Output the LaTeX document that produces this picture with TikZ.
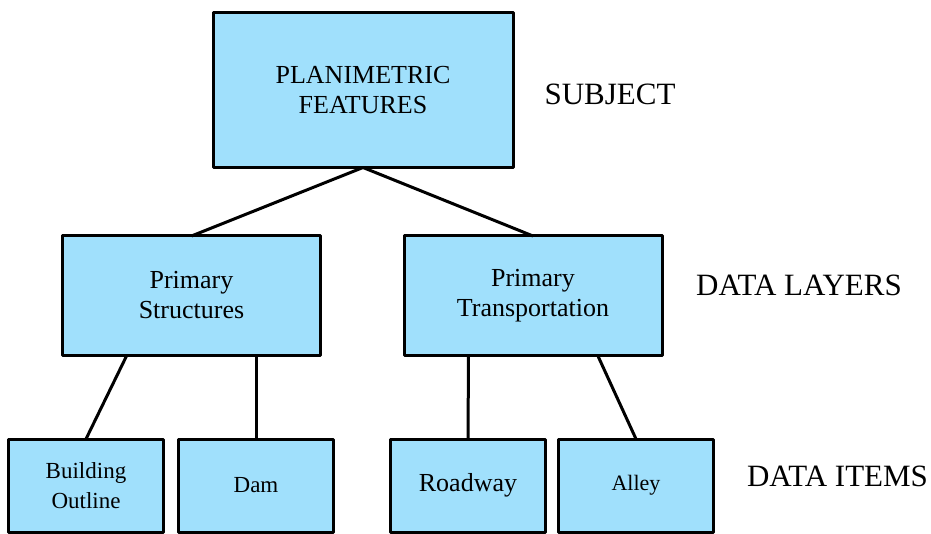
\documentclass[tikz,border=0pt]{standalone}
\usepackage{fontspec}
\setmainfont{Liberation Serif}
\newfontfamily\tnr{Liberation Serif}
\usetikzlibrary{calc}
\definecolor{boxblue}{RGB}{160,224,252}
\tikzset{
  box/.style={draw=black, line width=3pt, fill=boxblue, rectangle, inner sep=0pt, outer sep=0pt, align=center, line join=round},
  bigbox/.style={box, minimum width=300pt, minimum height=155pt, font=\tnr\fontsize{26}{30}\selectfont},
  midbox/.style={box, minimum width=258pt, minimum height=119pt, font=\tnr\fontsize{26}{30}\selectfont},
  smallbox/.style={box, minimum width=155pt, minimum height=93pt, font=\tnr\fontsize{23}{30}\selectfont},
  link/.style={draw=black, line width=3pt},
  levellabel/.style={font=\tnr\fontsize{31}{36}\selectfont, inner sep=0pt}
}
\begin{document}
\begin{tikzpicture}[x=1pt, y=-1pt]
\useasboundingbox (0,0) rectangle (931,534);
\node[bigbox] (pf) at (363,90) {PLANIMETRIC\\FEATURES};
\node[midbox] (ps) at (191.5,295.5) {Primary\\Structures};
\node[midbox] (pt) at (533,295.5) {Primary\\Transportation};
\node[smallbox] (bo) at (86,485.5) {Building\\Outline};
\node[smallbox] (dam) at (256,485.5) {Dam};
\node[smallbox, font=\tnr\fontsize{26}{30}\selectfont] (rw) at (468,485.5) {Roadway};
\node[smallbox, font=\tnr\fontsize{22}{30}\selectfont] (al) at (636,485.5) {Alley};
\node[levellabel] (subj) at (610,94) {SUBJECT};
\node[levellabel] (dl) at (799,285) {DATA LAYERS};
\node[levellabel] (di) at (837.5,476) {DATA ITEMS};
\draw[link] (pf.south) -- (ps.north);
\draw[link] (pf.south) -- (pt.north);
\draw[link] ($(ps.south west)!0.25!(ps.south east)$) -- (bo.north);
\draw[link] ($(ps.south west)!0.75!(ps.south east)$) -- (dam.north);
\draw[link] ($(pt.south west)!0.25!(pt.south east)$) -- (rw.north);
\draw[link] ($(pt.south west)!0.75!(pt.south east)$) -- (al.north);
\end{tikzpicture}
\end{document}
